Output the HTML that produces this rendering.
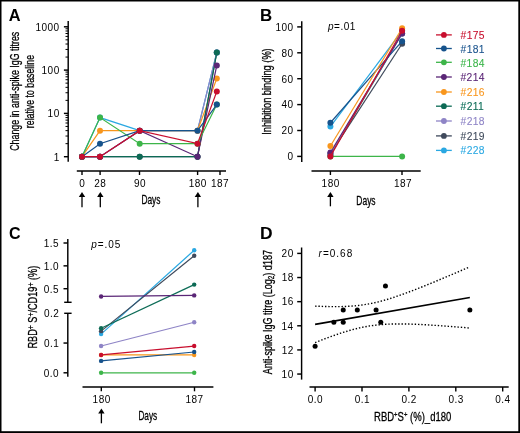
<!DOCTYPE html>
<html><head><meta charset="utf-8"><style>
html,body{margin:0;padding:0;background:#fff;}
body{width:520px;height:433px;overflow:hidden;position:relative;}
svg{position:absolute;left:0;top:0;font-family:"Liberation Sans", sans-serif;}
</style></head><body>
<svg width="520" height="433" viewBox="0 0 520 433">
<defs><filter id="soft" x="0" y="0" width="520" height="433" filterUnits="userSpaceOnUse"><feGaussianBlur stdDeviation="0.3"/></filter></defs>
<g filter="url(#soft)">
<text transform="translate(8.79 20.90) scale(1.0121 1)" fill="#000" ><tspan style="font-size:16.20px;font-weight:bold;">A</tspan></text>
<line x1="68.20" y1="21.00" x2="68.20" y2="161.70" stroke="#000" stroke-width="1.45" />
<line x1="63.90" y1="156.70" x2="68.20" y2="156.70" stroke="#000" stroke-width="1.45" />
<line x1="65.50" y1="143.67" x2="68.20" y2="143.67" stroke="#000" stroke-width="1.00" />
<line x1="65.50" y1="136.04" x2="68.20" y2="136.04" stroke="#000" stroke-width="1.00" />
<line x1="65.50" y1="130.63" x2="68.20" y2="130.63" stroke="#000" stroke-width="1.00" />
<line x1="65.50" y1="126.43" x2="68.20" y2="126.43" stroke="#000" stroke-width="1.00" />
<line x1="65.50" y1="123.01" x2="68.20" y2="123.01" stroke="#000" stroke-width="1.00" />
<line x1="65.50" y1="120.11" x2="68.20" y2="120.11" stroke="#000" stroke-width="1.00" />
<line x1="65.50" y1="117.60" x2="68.20" y2="117.60" stroke="#000" stroke-width="1.00" />
<line x1="65.50" y1="115.38" x2="68.20" y2="115.38" stroke="#000" stroke-width="1.00" />
<line x1="63.90" y1="113.40" x2="68.20" y2="113.40" stroke="#000" stroke-width="1.45" />
<line x1="65.50" y1="100.37" x2="68.20" y2="100.37" stroke="#000" stroke-width="1.00" />
<line x1="65.50" y1="92.74" x2="68.20" y2="92.74" stroke="#000" stroke-width="1.00" />
<line x1="65.50" y1="87.33" x2="68.20" y2="87.33" stroke="#000" stroke-width="1.00" />
<line x1="65.50" y1="83.13" x2="68.20" y2="83.13" stroke="#000" stroke-width="1.00" />
<line x1="65.50" y1="79.71" x2="68.20" y2="79.71" stroke="#000" stroke-width="1.00" />
<line x1="65.50" y1="76.81" x2="68.20" y2="76.81" stroke="#000" stroke-width="1.00" />
<line x1="65.50" y1="74.30" x2="68.20" y2="74.30" stroke="#000" stroke-width="1.00" />
<line x1="65.50" y1="72.08" x2="68.20" y2="72.08" stroke="#000" stroke-width="1.00" />
<line x1="63.90" y1="70.10" x2="68.20" y2="70.10" stroke="#000" stroke-width="1.45" />
<line x1="65.50" y1="57.07" x2="68.20" y2="57.07" stroke="#000" stroke-width="1.00" />
<line x1="65.50" y1="49.44" x2="68.20" y2="49.44" stroke="#000" stroke-width="1.00" />
<line x1="65.50" y1="44.03" x2="68.20" y2="44.03" stroke="#000" stroke-width="1.00" />
<line x1="65.50" y1="39.83" x2="68.20" y2="39.83" stroke="#000" stroke-width="1.00" />
<line x1="65.50" y1="36.41" x2="68.20" y2="36.41" stroke="#000" stroke-width="1.00" />
<line x1="65.50" y1="33.51" x2="68.20" y2="33.51" stroke="#000" stroke-width="1.00" />
<line x1="65.50" y1="31.00" x2="68.20" y2="31.00" stroke="#000" stroke-width="1.00" />
<line x1="65.50" y1="28.78" x2="68.20" y2="28.78" stroke="#000" stroke-width="1.00" />
<line x1="63.90" y1="26.80" x2="68.20" y2="26.80" stroke="#000" stroke-width="1.45" />
<text transform="translate(35.59 30.60)" fill="#000" letter-spacing="0.450" ><tspan style="font-size:10.00px;">1000</tspan></text>
<text transform="translate(41.61 73.90)" fill="#000" letter-spacing="0.450" ><tspan style="font-size:10.00px;">100</tspan></text>
<text transform="translate(47.62 117.20)" fill="#000" letter-spacing="0.450" ><tspan style="font-size:10.00px;">10</tspan></text>
<text transform="translate(53.73 160.50)" fill="#000" letter-spacing="0.450" ><tspan style="font-size:10.00px;">1</tspan></text>
<line x1="76.80" y1="171.00" x2="226.00" y2="171.00" stroke="#000" stroke-width="1.45" />
<line x1="82.00" y1="171.00" x2="82.00" y2="175.00" stroke="#000" stroke-width="1.40" />
<line x1="100.10" y1="171.00" x2="100.10" y2="175.00" stroke="#000" stroke-width="1.40" />
<line x1="139.50" y1="171.00" x2="139.50" y2="175.00" stroke="#000" stroke-width="1.40" />
<line x1="197.60" y1="171.00" x2="197.60" y2="175.00" stroke="#000" stroke-width="1.40" />
<line x1="220.00" y1="171.00" x2="220.00" y2="175.00" stroke="#000" stroke-width="1.40" />
<text transform="translate(79.22 186.80)" fill="#000" letter-spacing="0.450" ><tspan style="font-size:10.00px;">0</tspan></text>
<text transform="translate(94.28 186.80)" fill="#000" letter-spacing="0.450" ><tspan style="font-size:10.00px;">28</tspan></text>
<text transform="translate(134.07 186.80)" fill="#000" letter-spacing="0.450" ><tspan style="font-size:10.00px;">90</tspan></text>
<text transform="translate(188.77 186.80)" fill="#000" letter-spacing="0.450" ><tspan style="font-size:10.00px;">180</tspan></text>
<text transform="translate(210.93 186.80)" fill="#000" letter-spacing="0.450" ><tspan style="font-size:10.00px;">187</tspan></text>
<line x1="82.00" y1="196.50" x2="82.00" y2="207.20" stroke="#000" stroke-width="1.30" />
<path d="M82.00 191.90 L78.80 197.00 L85.20 197.00 Z" fill="#000"/>
<line x1="100.30" y1="196.50" x2="100.30" y2="207.20" stroke="#000" stroke-width="1.30" />
<path d="M100.30 191.90 L97.10 197.00 L103.50 197.00 Z" fill="#000"/>
<line x1="197.90" y1="196.50" x2="197.90" y2="207.20" stroke="#000" stroke-width="1.30" />
<path d="M197.90 191.90 L194.70 197.00 L201.10 197.00 Z" fill="#000"/>
<text transform="translate(141.41 204.30) scale(0.6546 1)" fill="#000" stroke="#000" stroke-width="0.3"><tspan style="font-size:12.80px;">Days</tspan></text>
<text transform="translate(19.00 150.85) rotate(-90) scale(0.6927 1)" fill="#000" stroke="#000" stroke-width="0.30"><tspan style="font-size:12.80px;">Change in anti-spike IgG titres</tspan></text>
<text transform="translate(33.80 128.18) rotate(-90) scale(0.6865 1)" fill="#000" stroke="#000" stroke-width="0.30"><tspan style="font-size:12.80px;">relative to baseline</tspan></text>
<polyline points="82.00,156.70 100.00,156.70 139.70,156.70 197.50,156.70 216.80,52.42" fill="none" stroke="#3f4a5b" stroke-width="1.20" />
<circle cx="82.00" cy="156.70" r="3.00" fill="#3f4a5b"/>
<circle cx="100.00" cy="156.70" r="3.00" fill="#3f4a5b"/>
<circle cx="139.70" cy="156.70" r="3.00" fill="#3f4a5b"/>
<circle cx="197.50" cy="156.70" r="3.00" fill="#3f4a5b"/>
<circle cx="216.80" cy="52.42" r="3.00" fill="#3f4a5b"/>
<polyline points="82.00,156.70 100.00,117.60 139.70,130.63 197.50,130.63 216.80,52.42" fill="none" stroke="#2aa8e2" stroke-width="1.20" />
<circle cx="82.00" cy="156.70" r="3.00" fill="#2aa8e2"/>
<circle cx="100.00" cy="117.60" r="3.00" fill="#2aa8e2"/>
<circle cx="139.70" cy="130.63" r="3.00" fill="#2aa8e2"/>
<circle cx="197.50" cy="130.63" r="3.00" fill="#2aa8e2"/>
<circle cx="216.80" cy="52.42" r="3.00" fill="#2aa8e2"/>
<polyline points="82.00,156.70 100.00,156.70 139.70,130.63 197.50,130.63 216.80,52.42" fill="none" stroke="#8e84c6" stroke-width="1.20" />
<circle cx="82.00" cy="156.70" r="3.00" fill="#8e84c6"/>
<circle cx="100.00" cy="156.70" r="3.00" fill="#8e84c6"/>
<circle cx="139.70" cy="130.63" r="3.00" fill="#8e84c6"/>
<circle cx="197.50" cy="130.63" r="3.00" fill="#8e84c6"/>
<circle cx="216.80" cy="52.42" r="3.00" fill="#8e84c6"/>
<polyline points="82.00,156.70 100.00,130.63 139.70,130.63 197.50,130.63 216.80,78.49" fill="none" stroke="#f8961d" stroke-width="1.20" />
<circle cx="82.00" cy="156.70" r="3.00" fill="#f8961d"/>
<circle cx="100.00" cy="130.63" r="3.00" fill="#f8961d"/>
<circle cx="139.70" cy="130.63" r="3.00" fill="#f8961d"/>
<circle cx="197.50" cy="130.63" r="3.00" fill="#f8961d"/>
<circle cx="216.80" cy="78.49" r="3.00" fill="#f8961d"/>
<polyline points="82.00,156.70 100.00,156.70 139.70,156.70 197.50,156.70 216.80,52.42" fill="none" stroke="#0b6b55" stroke-width="1.20" />
<circle cx="82.00" cy="156.70" r="3.00" fill="#0b6b55"/>
<circle cx="100.00" cy="156.70" r="3.00" fill="#0b6b55"/>
<circle cx="139.70" cy="156.70" r="3.00" fill="#0b6b55"/>
<circle cx="197.50" cy="156.70" r="3.00" fill="#0b6b55"/>
<circle cx="216.80" cy="52.42" r="3.00" fill="#0b6b55"/>
<polyline points="82.00,156.70 100.00,156.70 139.70,130.63 197.50,156.70 216.80,65.46" fill="none" stroke="#5a2576" stroke-width="1.20" />
<circle cx="82.00" cy="156.70" r="3.00" fill="#5a2576"/>
<circle cx="100.00" cy="156.70" r="3.00" fill="#5a2576"/>
<circle cx="139.70" cy="130.63" r="3.00" fill="#5a2576"/>
<circle cx="197.50" cy="156.70" r="3.00" fill="#5a2576"/>
<circle cx="216.80" cy="65.46" r="3.00" fill="#5a2576"/>
<polyline points="82.00,156.70 100.00,117.60 139.70,143.67 197.50,143.67 216.80,104.56" fill="none" stroke="#3cb54a" stroke-width="1.20" />
<circle cx="82.00" cy="156.70" r="3.00" fill="#3cb54a"/>
<circle cx="100.00" cy="117.60" r="3.00" fill="#3cb54a"/>
<circle cx="139.70" cy="143.67" r="3.00" fill="#3cb54a"/>
<circle cx="197.50" cy="143.67" r="3.00" fill="#3cb54a"/>
<circle cx="216.80" cy="104.56" r="3.00" fill="#3cb54a"/>
<polyline points="82.00,156.70 100.00,143.67 139.70,130.63 197.50,130.63 216.80,104.56" fill="none" stroke="#18528c" stroke-width="1.20" />
<circle cx="82.00" cy="156.70" r="3.00" fill="#18528c"/>
<circle cx="100.00" cy="143.67" r="3.00" fill="#18528c"/>
<circle cx="139.70" cy="130.63" r="3.00" fill="#18528c"/>
<circle cx="197.50" cy="130.63" r="3.00" fill="#18528c"/>
<circle cx="216.80" cy="104.56" r="3.00" fill="#18528c"/>
<polyline points="82.00,156.70 100.00,156.70 139.70,130.63 197.50,143.67 216.80,91.53" fill="none" stroke="#c8102e" stroke-width="1.20" />
<circle cx="82.00" cy="156.70" r="3.00" fill="#c8102e"/>
<circle cx="100.00" cy="156.70" r="3.00" fill="#c8102e"/>
<circle cx="139.70" cy="130.63" r="3.00" fill="#c8102e"/>
<circle cx="197.50" cy="143.67" r="3.00" fill="#c8102e"/>
<circle cx="216.80" cy="91.53" r="3.00" fill="#c8102e"/>
<text transform="translate(260.07 21.00) scale(1.0425 1)" fill="#000" ><tspan style="font-size:16.20px;font-weight:bold;">B</tspan></text>
<line x1="301.75" y1="21.20" x2="301.75" y2="161.90" stroke="#000" stroke-width="1.45" />
<line x1="297.20" y1="156.40" x2="301.75" y2="156.40" stroke="#000" stroke-width="1.45" />
<text transform="translate(287.43 160.20)" fill="#000" letter-spacing="0.450" ><tspan style="font-size:10.00px;">0</tspan></text>
<line x1="297.20" y1="130.50" x2="301.75" y2="130.50" stroke="#000" stroke-width="1.45" />
<text transform="translate(281.42 134.30)" fill="#000" letter-spacing="0.450" ><tspan style="font-size:10.00px;">20</tspan></text>
<line x1="297.20" y1="104.60" x2="301.75" y2="104.60" stroke="#000" stroke-width="1.45" />
<text transform="translate(281.42 108.40)" fill="#000" letter-spacing="0.450" ><tspan style="font-size:10.00px;">40</tspan></text>
<line x1="297.20" y1="78.70" x2="301.75" y2="78.70" stroke="#000" stroke-width="1.45" />
<text transform="translate(281.42 82.50)" fill="#000" letter-spacing="0.450" ><tspan style="font-size:10.00px;">60</tspan></text>
<line x1="297.20" y1="52.80" x2="301.75" y2="52.80" stroke="#000" stroke-width="1.45" />
<text transform="translate(281.42 56.60)" fill="#000" letter-spacing="0.450" ><tspan style="font-size:10.00px;">80</tspan></text>
<line x1="297.20" y1="26.90" x2="301.75" y2="26.90" stroke="#000" stroke-width="1.45" />
<text transform="translate(275.41 30.70)" fill="#000" letter-spacing="0.450" ><tspan style="font-size:10.00px;">100</tspan></text>
<line x1="311.50" y1="170.90" x2="420.70" y2="170.90" stroke="#000" stroke-width="1.45" />
<line x1="330.40" y1="170.90" x2="330.40" y2="175.00" stroke="#000" stroke-width="1.40" />
<line x1="402.00" y1="170.90" x2="402.00" y2="175.00" stroke="#000" stroke-width="1.40" />
<text transform="translate(321.62 186.50)" fill="#000" letter-spacing="0.450" ><tspan style="font-size:10.00px;">180</tspan></text>
<text transform="translate(393.88 186.50)" fill="#000" letter-spacing="0.450" ><tspan style="font-size:10.00px;">187</tspan></text>
<line x1="330.40" y1="196.50" x2="330.40" y2="206.30" stroke="#000" stroke-width="1.30" />
<path d="M330.40 191.90 L327.20 197.00 L333.60 197.00 Z" fill="#000"/>
<text transform="translate(356.31 204.60) scale(0.6618 1)" fill="#000" stroke="#000" stroke-width="0.3"><tspan style="font-size:12.80px;">Days</tspan></text>
<text transform="translate(271.30 134.76) rotate(-90) scale(0.7247 1)" fill="#000" stroke="#000" stroke-width="0.30"><tspan style="font-size:12.80px;">Inhibition binding (%)</tspan></text>
<text transform="translate(327.95 29.60)" fill="#000" letter-spacing="0.509" ><tspan style="font-size:10.00px;font-style:italic;">p</tspan><tspan style="font-size:10.00px;">=.01</tspan></text>
<polyline points="330.40,156.40 402.10,156.40" fill="none" stroke="#3cb54a" stroke-width="1.20" />
<circle cx="330.40" cy="156.40" r="3.00" fill="#3cb54a"/>
<circle cx="402.10" cy="156.40" r="3.00" fill="#3cb54a"/>
<polyline points="330.40,153.81 402.10,43.74" fill="none" stroke="#3f4a5b" stroke-width="1.20" />
<circle cx="330.40" cy="153.81" r="3.00" fill="#3f4a5b"/>
<circle cx="402.10" cy="43.74" r="3.00" fill="#3f4a5b"/>
<polyline points="330.40,155.11 402.10,33.38" fill="none" stroke="#0b6b55" stroke-width="1.20" />
<circle cx="330.40" cy="155.11" r="3.00" fill="#0b6b55"/>
<circle cx="402.10" cy="33.38" r="3.00" fill="#0b6b55"/>
<polyline points="330.40,153.81 402.10,33.38" fill="none" stroke="#8e84c6" stroke-width="1.20" />
<circle cx="330.40" cy="153.81" r="3.00" fill="#8e84c6"/>
<circle cx="402.10" cy="33.38" r="3.00" fill="#8e84c6"/>
<polyline points="330.40,126.62 402.10,30.79" fill="none" stroke="#2aa8e2" stroke-width="1.20" />
<circle cx="330.40" cy="126.62" r="3.00" fill="#2aa8e2"/>
<circle cx="402.10" cy="30.79" r="3.00" fill="#2aa8e2"/>
<polyline points="330.40,122.73 402.10,41.15" fill="none" stroke="#18528c" stroke-width="1.20" />
<circle cx="330.40" cy="122.73" r="3.00" fill="#18528c"/>
<circle cx="402.10" cy="41.15" r="3.00" fill="#18528c"/>
<polyline points="330.40,152.52 402.10,33.38" fill="none" stroke="#5a2576" stroke-width="1.20" />
<circle cx="330.40" cy="152.52" r="3.00" fill="#5a2576"/>
<circle cx="402.10" cy="33.38" r="3.00" fill="#5a2576"/>
<polyline points="330.40,146.04 402.10,28.20" fill="none" stroke="#f8961d" stroke-width="1.20" />
<circle cx="330.40" cy="146.04" r="3.00" fill="#f8961d"/>
<circle cx="402.10" cy="28.20" r="3.00" fill="#f8961d"/>
<polyline points="330.40,156.40 402.10,30.79" fill="none" stroke="#c8102e" stroke-width="1.20" />
<circle cx="330.40" cy="156.40" r="3.00" fill="#c8102e"/>
<circle cx="402.10" cy="30.79" r="3.00" fill="#c8102e"/>
<line x1="436.00" y1="34.90" x2="451.80" y2="34.90" stroke="#c8102e" stroke-width="1.30" />
<circle cx="443.90" cy="34.90" r="2.90" fill="#c8102e"/>
<text transform="translate(460.55 39.00)" fill="#c8102e" letter-spacing="0.355" stroke="#c8102e" stroke-width="0.1"><tspan style="font-size:10.30px;">#175</tspan></text>
<line x1="436.00" y1="48.50" x2="451.80" y2="48.50" stroke="#18528c" stroke-width="1.30" />
<circle cx="443.90" cy="48.50" r="2.90" fill="#18528c"/>
<text transform="translate(460.55 52.50)" fill="#18528c" letter-spacing="0.378" stroke="#18528c" stroke-width="0.1"><tspan style="font-size:10.30px;">#181</tspan></text>
<line x1="436.00" y1="62.30" x2="451.80" y2="62.30" stroke="#3cb54a" stroke-width="1.30" />
<circle cx="443.90" cy="62.30" r="2.90" fill="#3cb54a"/>
<text transform="translate(460.55 66.70)" fill="#3cb54a" letter-spacing="0.311" stroke="#3cb54a" stroke-width="0.1"><tspan style="font-size:10.30px;">#184</tspan></text>
<line x1="436.00" y1="77.00" x2="451.80" y2="77.00" stroke="#5a2576" stroke-width="1.30" />
<circle cx="443.90" cy="77.00" r="2.90" fill="#5a2576"/>
<text transform="translate(460.55 81.10)" fill="#5a2576" letter-spacing="0.311" stroke="#5a2576" stroke-width="0.1"><tspan style="font-size:10.30px;">#214</tspan></text>
<line x1="436.00" y1="92.00" x2="451.80" y2="92.00" stroke="#f8961d" stroke-width="1.30" />
<circle cx="443.90" cy="92.00" r="2.90" fill="#f8961d"/>
<text transform="translate(460.55 95.80)" fill="#f8961d" letter-spacing="0.361" stroke="#f8961d" stroke-width="0.1"><tspan style="font-size:10.30px;">#216</tspan></text>
<line x1="436.00" y1="106.20" x2="451.80" y2="106.20" stroke="#0b6b55" stroke-width="1.30" />
<circle cx="443.90" cy="106.20" r="2.90" fill="#0b6b55"/>
<text transform="translate(460.55 110.20)" fill="#0b6b55" letter-spacing="0.378" stroke="#0b6b55" stroke-width="0.1"><tspan style="font-size:10.30px;">#211</tspan></text>
<line x1="436.00" y1="121.00" x2="451.80" y2="121.00" stroke="#8e84c6" stroke-width="1.30" />
<circle cx="443.90" cy="121.00" r="2.90" fill="#8e84c6"/>
<text transform="translate(460.55 125.10)" fill="#8e84c6" letter-spacing="0.360" stroke="#8e84c6" stroke-width="0.1"><tspan style="font-size:10.30px;">#218</tspan></text>
<line x1="436.00" y1="135.90" x2="451.80" y2="135.90" stroke="#3f4a5b" stroke-width="1.30" />
<circle cx="443.90" cy="135.90" r="2.90" fill="#3f4a5b"/>
<text transform="translate(460.55 139.90)" fill="#3f4a5b" letter-spacing="0.373" stroke="#3f4a5b" stroke-width="0.1"><tspan style="font-size:10.30px;">#219</tspan></text>
<line x1="436.00" y1="150.40" x2="451.80" y2="150.40" stroke="#2aa8e2" stroke-width="1.30" />
<circle cx="443.90" cy="150.40" r="2.90" fill="#2aa8e2"/>
<text transform="translate(460.55 154.20)" fill="#2aa8e2" letter-spacing="0.360" stroke="#2aa8e2" stroke-width="0.1"><tspan style="font-size:10.30px;">#228</tspan></text>
<text transform="translate(9.04 238.80) scale(0.9913 1)" fill="#000" ><tspan style="font-size:16.20px;font-weight:bold;">C</tspan></text>
<line x1="67.80" y1="239.10" x2="67.80" y2="302.20" stroke="#000" stroke-width="1.45" />
<line x1="67.80" y1="313.30" x2="67.80" y2="376.80" stroke="#000" stroke-width="1.45" />
<line x1="64.20" y1="302.30" x2="71.60" y2="302.30" stroke="#000" stroke-width="1.45" />
<line x1="64.20" y1="313.30" x2="71.60" y2="313.30" stroke="#000" stroke-width="1.45" />
<line x1="63.50" y1="243.00" x2="67.80" y2="243.00" stroke="#000" stroke-width="1.45" />
<text transform="translate(43.82 246.80)" fill="#000" letter-spacing="0.450" ><tspan style="font-size:10.00px;">1.5</tspan></text>
<line x1="63.50" y1="265.85" x2="67.80" y2="265.85" stroke="#000" stroke-width="1.45" />
<text transform="translate(43.79 269.65)" fill="#000" letter-spacing="0.450" ><tspan style="font-size:10.00px;">1.0</tspan></text>
<line x1="63.50" y1="288.70" x2="67.80" y2="288.70" stroke="#000" stroke-width="1.45" />
<text transform="translate(43.82 292.50)" fill="#000" letter-spacing="0.450" ><tspan style="font-size:10.00px;">0.5</tspan></text>
<text transform="translate(43.90 317.10)" fill="#000" letter-spacing="0.450" ><tspan style="font-size:10.00px;">0.2</tspan></text>
<line x1="63.50" y1="343.05" x2="67.80" y2="343.05" stroke="#000" stroke-width="1.45" />
<text transform="translate(43.89 346.85)" fill="#000" letter-spacing="0.450" ><tspan style="font-size:10.00px;">0.1</tspan></text>
<line x1="63.50" y1="372.80" x2="67.80" y2="372.80" stroke="#000" stroke-width="1.45" />
<text transform="translate(43.79 376.60)" fill="#000" letter-spacing="0.450" ><tspan style="font-size:10.00px;">0.0</tspan></text>
<line x1="82.50" y1="387.00" x2="213.40" y2="387.00" stroke="#000" stroke-width="1.45" />
<line x1="101.30" y1="387.00" x2="101.30" y2="391.30" stroke="#000" stroke-width="1.40" />
<line x1="194.50" y1="387.00" x2="194.50" y2="391.30" stroke="#000" stroke-width="1.40" />
<text transform="translate(92.62 402.50)" fill="#000" letter-spacing="0.450" ><tspan style="font-size:10.00px;">180</tspan></text>
<text transform="translate(185.38 402.50)" fill="#000" letter-spacing="0.450" ><tspan style="font-size:10.00px;">187</tspan></text>
<line x1="101.40" y1="413.10" x2="101.40" y2="423.30" stroke="#000" stroke-width="1.30" />
<path d="M101.40 408.50 L98.20 413.60 L104.60 413.60 Z" fill="#000"/>
<text transform="translate(138.42 420.10) scale(0.6438 1)" fill="#000" stroke="#000" stroke-width="0.3"><tspan style="font-size:12.80px;">Days</tspan></text>
<text transform="translate(91.25 247.90)" fill="#000" letter-spacing="0.942" ><tspan style="font-size:10.00px;font-style:italic;">p</tspan><tspan style="font-size:10.00px;">=.05</tspan></text>
<text transform="translate(37.00 348.55) rotate(-90) scale(0.7170 1)" fill="#000" stroke="#000" stroke-width="0.30"><tspan style="font-size:12.80px;">RBD</tspan><tspan style="font-size:9.50px;" dy="-3.00">+</tspan><tspan style="font-size:12.80px;" dy="3.00"> S</tspan><tspan style="font-size:9.50px;" dy="-3.00">+</tspan><tspan style="font-size:12.80px;" dy="3.00">/CD19</tspan><tspan style="font-size:9.50px;" dy="-3.00">+</tspan><tspan style="font-size:12.80px;" dy="3.00"> (%)</tspan></text>
<polyline points="101.10,372.80 194.20,372.80" fill="none" stroke="#3cb54a" stroke-width="1.20" />
<polyline points="101.10,354.95 194.20,354.95" fill="none" stroke="#f8961d" stroke-width="1.20" />
<polyline points="101.10,360.90 194.20,351.98" fill="none" stroke="#18528c" stroke-width="1.20" />
<polyline points="101.10,354.95 194.20,346.03" fill="none" stroke="#c8102e" stroke-width="1.20" />
<polyline points="101.10,346.03 194.20,322.23" fill="none" stroke="#8e84c6" stroke-width="1.20" />
<polyline points="101.10,334.12 194.20,250.31" fill="none" stroke="#2aa8e2" stroke-width="1.20" />
<polyline points="101.10,331.15 194.20,255.80" fill="none" stroke="#3f4a5b" stroke-width="1.20" />
<polyline points="101.10,328.18 194.20,284.59" fill="none" stroke="#0b6b55" stroke-width="1.20" />
<polyline points="101.10,296.47 194.20,295.42" fill="none" stroke="#5a2576" stroke-width="1.20" />
<circle cx="101.10" cy="372.80" r="2.20" fill="#3cb54a"/>
<circle cx="194.20" cy="372.80" r="2.20" fill="#3cb54a"/>
<circle cx="101.10" cy="354.95" r="2.20" fill="#f8961d"/>
<circle cx="194.20" cy="354.95" r="2.20" fill="#f8961d"/>
<circle cx="101.10" cy="360.90" r="2.20" fill="#18528c"/>
<circle cx="194.20" cy="351.98" r="2.20" fill="#18528c"/>
<circle cx="101.10" cy="354.95" r="2.20" fill="#c8102e"/>
<circle cx="194.20" cy="346.03" r="2.20" fill="#c8102e"/>
<circle cx="101.10" cy="346.03" r="2.20" fill="#8e84c6"/>
<circle cx="194.20" cy="322.23" r="2.20" fill="#8e84c6"/>
<circle cx="101.10" cy="334.12" r="2.20" fill="#2aa8e2"/>
<circle cx="194.20" cy="250.31" r="2.20" fill="#2aa8e2"/>
<circle cx="101.10" cy="331.15" r="2.20" fill="#3f4a5b"/>
<circle cx="194.20" cy="255.80" r="2.20" fill="#3f4a5b"/>
<circle cx="101.10" cy="328.18" r="2.20" fill="#0b6b55"/>
<circle cx="194.20" cy="284.59" r="2.20" fill="#0b6b55"/>
<circle cx="101.10" cy="296.47" r="2.20" fill="#5a2576"/>
<circle cx="194.20" cy="295.42" r="2.20" fill="#5a2576"/>
<text transform="translate(260.03 238.50) scale(1.0770 1)" fill="#000" ><tspan style="font-size:16.20px;font-weight:bold;">D</tspan></text>
<line x1="301.60" y1="247.50" x2="301.60" y2="379.60" stroke="#000" stroke-width="1.45" />
<line x1="297.20" y1="374.05" x2="301.60" y2="374.05" stroke="#000" stroke-width="1.45" />
<text transform="translate(281.62 377.85)" fill="#000" letter-spacing="0.450" ><tspan style="font-size:10.00px;">10</tspan></text>
<line x1="297.20" y1="349.92" x2="301.60" y2="349.92" stroke="#000" stroke-width="1.45" />
<text transform="translate(281.73 353.72)" fill="#000" letter-spacing="0.450" ><tspan style="font-size:10.00px;">12</tspan></text>
<line x1="297.20" y1="325.79" x2="301.60" y2="325.79" stroke="#000" stroke-width="1.45" />
<text transform="translate(281.52 329.59)" fill="#000" letter-spacing="0.450" ><tspan style="font-size:10.00px;">14</tspan></text>
<line x1="297.20" y1="301.66" x2="301.60" y2="301.66" stroke="#000" stroke-width="1.45" />
<text transform="translate(281.67 305.46)" fill="#000" letter-spacing="0.450" ><tspan style="font-size:10.00px;">16</tspan></text>
<line x1="297.20" y1="277.53" x2="301.60" y2="277.53" stroke="#000" stroke-width="1.45" />
<text transform="translate(281.66 281.33)" fill="#000" letter-spacing="0.450" ><tspan style="font-size:10.00px;">18</tspan></text>
<line x1="297.20" y1="253.40" x2="301.60" y2="253.40" stroke="#000" stroke-width="1.45" />
<text transform="translate(281.62 257.20)" fill="#000" letter-spacing="0.450" ><tspan style="font-size:10.00px;">20</tspan></text>
<line x1="309.50" y1="386.90" x2="508.70" y2="386.90" stroke="#000" stroke-width="1.45" />
<line x1="315.10" y1="386.90" x2="315.10" y2="391.40" stroke="#000" stroke-width="1.40" />
<text transform="translate(307.70 402.60)" fill="#000" letter-spacing="0.450" ><tspan style="font-size:10.00px;">0.0</tspan></text>
<line x1="362.00" y1="386.90" x2="362.00" y2="391.40" stroke="#000" stroke-width="1.40" />
<text transform="translate(354.65 402.60)" fill="#000" letter-spacing="0.450" ><tspan style="font-size:10.00px;">0.1</tspan></text>
<line x1="408.90" y1="386.90" x2="408.90" y2="391.40" stroke="#000" stroke-width="1.40" />
<text transform="translate(401.56 402.60)" fill="#000" letter-spacing="0.450" ><tspan style="font-size:10.00px;">0.2</tspan></text>
<line x1="455.80" y1="386.90" x2="455.80" y2="391.40" stroke="#000" stroke-width="1.40" />
<text transform="translate(448.42 402.60)" fill="#000" letter-spacing="0.450" ><tspan style="font-size:10.00px;">0.3</tspan></text>
<line x1="502.70" y1="386.90" x2="502.70" y2="391.40" stroke="#000" stroke-width="1.40" />
<text transform="translate(495.25 402.60)" fill="#000" letter-spacing="0.450" ><tspan style="font-size:10.00px;">0.4</tspan></text>
<text transform="translate(374.02 421.40) scale(0.7440 1)" fill="#000" stroke="#000" stroke-width="0.3"><tspan style="font-size:12.80px;">RBD</tspan><tspan style="font-size:8.00px;" dy="-4.50">+</tspan><tspan style="font-size:12.80px;" dy="4.50">S</tspan><tspan style="font-size:8.00px;" dy="-4.50">+</tspan><tspan style="font-size:12.80px;" dy="4.50"> (%)_d180</tspan></text>
<text transform="translate(271.60 374.22) rotate(-90) scale(0.7071 1)" fill="#000" stroke="#000" stroke-width="0.30"><tspan style="font-size:12.80px;">Anti-spike IgG titre (Log</tspan><tspan style="font-size:9.00px;" dy="2.50">2</tspan><tspan style="font-size:12.80px;" dy="-2.50">) d187</tspan></text>
<text transform="translate(318.53 257.00)" fill="#000" letter-spacing="1.014" ><tspan style="font-size:10.00px;font-style:italic;">r</tspan><tspan style="font-size:10.00px;">=0.68</tspan></text>
<polyline points="315.10,324.34 469.87,297.43" fill="none" stroke="#000" stroke-width="1.60" />
<polyline points="315.10,306.12 317.45,306.22 319.79,306.32 322.14,306.40 324.48,306.48 326.83,306.54 329.17,306.59 331.52,306.62 333.86,306.64 336.21,306.64 338.55,306.63 340.90,306.59 343.24,306.53 345.59,306.44 347.93,306.33 350.28,306.19 352.62,306.03 354.97,305.83 357.31,305.59 359.66,305.32 362.00,305.02 364.35,304.67 366.69,304.29 369.04,303.87 371.38,303.42 373.73,302.92 376.07,302.39 378.42,301.82 380.76,301.22 383.11,300.58 385.45,299.92 387.80,299.23 390.14,298.50 392.49,297.76 394.83,296.99 397.18,296.20 399.52,295.39 401.87,294.56 404.21,293.72 406.56,292.86 408.90,291.99 411.25,291.10 413.59,290.20 415.94,289.30 418.28,288.38 420.62,287.45 422.97,286.52 425.32,285.58 427.66,284.63 430.00,283.67 432.35,282.71 434.70,281.74 437.04,280.77 439.39,279.80 441.73,278.82 444.08,277.83 446.42,276.84 448.77,275.85 451.11,274.85 453.46,273.86 455.80,272.86 458.14,271.85 460.49,270.85 462.84,269.84 465.18,268.83 467.53,267.81 469.87,266.80" fill="none" stroke="#000" stroke-width="1.40" stroke-dasharray="1.4 1.9"/>
<polyline points="315.10,342.57 317.45,341.65 319.79,340.74 322.14,339.83 324.48,338.94 326.83,338.07 329.17,337.20 331.52,336.35 333.86,335.52 336.21,334.70 338.55,333.90 340.90,333.12 343.24,332.37 345.59,331.64 347.93,330.93 350.28,330.26 352.62,329.61 354.97,328.99 357.31,328.41 359.66,327.87 362.00,327.36 364.35,326.88 366.69,326.45 369.04,326.05 371.38,325.69 373.73,325.37 376.07,325.09 378.42,324.84 380.76,324.63 383.11,324.45 385.45,324.30 387.80,324.18 390.14,324.08 392.49,324.01 394.83,323.96 397.18,323.94 399.52,323.93 401.87,323.94 404.21,323.97 406.56,324.02 408.90,324.07 411.25,324.14 413.59,324.22 415.94,324.32 418.28,324.42 420.62,324.53 422.97,324.65 425.32,324.78 427.66,324.91 430.00,325.05 432.35,325.19 434.70,325.35 437.04,325.50 439.39,325.66 441.73,325.83 444.08,326.00 446.42,326.17 448.77,326.35 451.11,326.53 453.46,326.71 455.80,326.89 458.14,327.08 460.49,327.27 462.84,327.47 465.18,327.66 467.53,327.86 469.87,328.06" fill="none" stroke="#000" stroke-width="1.40" stroke-dasharray="1.4 1.9"/>
<circle cx="315.10" cy="346.30" r="2.50" fill="#000"/>
<circle cx="333.86" cy="322.17" r="2.50" fill="#000"/>
<circle cx="343.24" cy="310.11" r="2.50" fill="#000"/>
<circle cx="343.24" cy="322.17" r="2.50" fill="#000"/>
<circle cx="357.31" cy="310.11" r="2.50" fill="#000"/>
<circle cx="376.07" cy="310.11" r="2.50" fill="#000"/>
<circle cx="380.76" cy="322.17" r="2.50" fill="#000"/>
<circle cx="385.45" cy="285.98" r="2.50" fill="#000"/>
<circle cx="469.87" cy="310.11" r="2.50" fill="#000"/>
</g>
<rect x="0" y="0" width="520" height="1.5" fill="#000"/>
<rect x="0" y="0" width="1.5" height="433" fill="#000"/>
<rect x="518.3" y="0" width="1.7" height="433" fill="#000"/>
<rect x="0" y="431.2" width="520" height="1.8" fill="#000"/>
</svg>
</body></html>
